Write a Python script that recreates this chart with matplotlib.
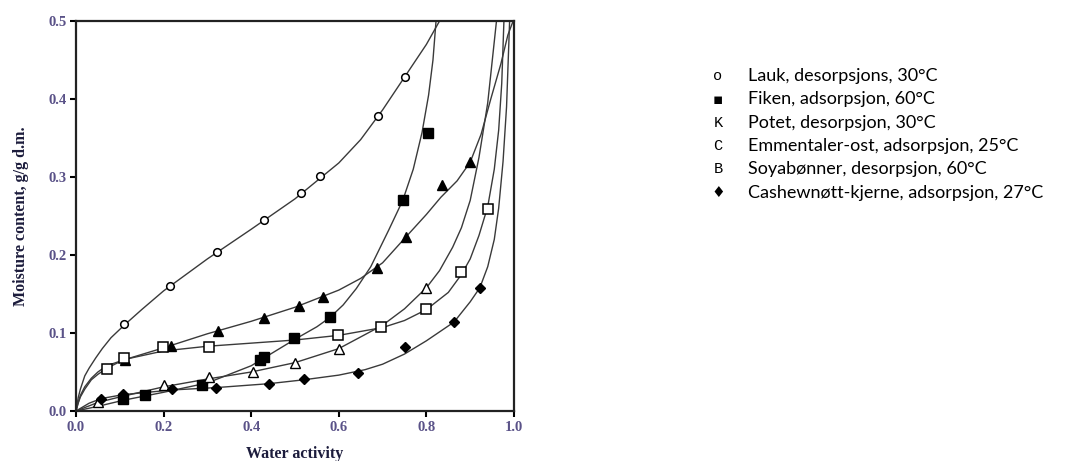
import matplotlib
matplotlib.use("Agg")
import matplotlib.pyplot as plt

# measured points (water activity, moisture content g/g d.m.)
lauk_aw = [0.11, 0.215, 0.323, 0.43, 0.513, 0.558, 0.689, 0.75]
lauk_m = [0.111, 0.16, 0.204, 0.245, 0.279, 0.301, 0.378, 0.428]
fiken_aw = [0.108, 0.158, 0.288, 0.42, 0.43, 0.497, 0.58, 0.746, 0.803]
fiken_m = [0.015, 0.02, 0.033, 0.065, 0.069, 0.094, 0.121, 0.27, 0.357]
potet_aw = [0.112, 0.217, 0.325, 0.43, 0.508, 0.563, 0.688, 0.753, 0.835, 0.90]
potet_m = [0.065, 0.083, 0.103, 0.119, 0.135, 0.146, 0.183, 0.223, 0.29, 0.319]
emment_aw = [0.05, 0.2, 0.303, 0.405, 0.50, 0.60, 0.80]
emment_m = [0.011, 0.033, 0.044, 0.05, 0.061, 0.08, 0.158]
soya_aw = [0.071, 0.11, 0.198, 0.303, 0.598, 0.697, 0.80, 0.88, 0.94]
soya_m = [0.054, 0.068, 0.082, 0.082, 0.097, 0.108, 0.131, 0.178, 0.259]
cashew_aw = [0.058, 0.108, 0.22, 0.32, 0.44, 0.52, 0.643, 0.75, 0.863, 0.922]
cashew_m = [0.016, 0.022, 0.028, 0.03, 0.035, 0.041, 0.049, 0.082, 0.114, 0.158]

# fitted curves
lauk_c_aw = [0, 0.005, 0.01, 0.02, 0.03, 0.045, 0.06, 0.08, 0.11, 0.15, 0.2, 0.3, 0.4,
             0.5, 0.6, 0.65, 0.7, 0.75, 0.8, 0.83]
lauk_c_m = [0, 0.017, 0.028, 0.045, 0.055, 0.068, 0.08, 0.094, 0.11, 0.13, 0.154, 0.195, 0.233,
            0.272, 0.318, 0.348, 0.386, 0.428, 0.47, 0.5]
fiken_c_aw = [0, 0.05, 0.11, 0.2, 0.3, 0.4, 0.5, 0.55, 0.58, 0.61, 0.64, 0.673, 0.714, 0.746,
              0.77, 0.79, 0.805, 0.815, 0.822]
fiken_c_m = [0, 0.006, 0.014, 0.024, 0.036, 0.058, 0.092, 0.108, 0.12, 0.136, 0.157, 0.185, 0.232,
             0.27, 0.31, 0.357, 0.405, 0.45, 0.5]
potet_c_aw = [0, 0.005, 0.01, 0.02, 0.035, 0.05, 0.07, 0.112, 0.2, 0.3, 0.4, 0.5, 0.6, 0.65, 0.7,
              0.753, 0.8, 0.833, 0.87, 0.9, 0.925, 0.947, 0.97, 0.986, 0.998]
potet_c_m = [0, 0.011, 0.02, 0.031, 0.042, 0.05, 0.058, 0.066, 0.081, 0.099, 0.115, 0.133, 0.155,
             0.17, 0.19, 0.223, 0.252, 0.274, 0.295, 0.319, 0.355, 0.40, 0.445, 0.482, 0.5]
emment_c_aw = [0, 0.05, 0.1, 0.2, 0.3, 0.4, 0.5, 0.6, 0.7, 0.75, 0.8, 0.83, 0.86, 0.88, 0.9,
               0.92, 0.94, 0.96]
emment_c_m = [0, 0.011, 0.018, 0.031, 0.041, 0.05, 0.062, 0.08, 0.11, 0.131, 0.158, 0.18, 0.21,
              0.235, 0.27, 0.325, 0.395, 0.5]
soya_c_aw = [0, 0.005, 0.01, 0.02, 0.035, 0.05, 0.071, 0.11, 0.2, 0.3, 0.4, 0.5, 0.6, 0.7, 0.75,
             0.8, 0.85, 0.88, 0.9, 0.92, 0.94, 0.955, 0.965, 0.972, 0.977]
soya_c_m = [0, 0.01, 0.018, 0.028, 0.04, 0.047, 0.055, 0.066, 0.077, 0.083, 0.087, 0.091, 0.097,
            0.107, 0.116, 0.13, 0.152, 0.175, 0.195, 0.225, 0.262, 0.31, 0.36, 0.42, 0.5]
cashew_c_aw = [0, 0.03, 0.058, 0.108, 0.22, 0.32, 0.44, 0.52, 0.6, 0.66, 0.7, 0.75, 0.8, 0.863,
               0.9, 0.922, 0.94, 0.955, 0.965, 0.975, 0.983, 0.99]
cashew_c_m = [0, 0.01, 0.016, 0.021, 0.027, 0.03, 0.035, 0.04, 0.046, 0.053, 0.06, 0.073, 0.09,
              0.114, 0.14, 0.158, 0.185, 0.22, 0.26, 0.32, 0.39, 0.5]

legend_symbols = ["o", "\u25aa", "K", "C", "B", "\u2666"]
legend_labels = ["Lauk, desorpsjons, 30°C",
                 "Fiken, adsorpsjon, 60°C",
                 "Potet, desorpsjon, 30°C",
                 "Emmentaler-ost, adsorpsjon, 25°C",
                 "Soyabønner, desorpsjon, 60°C",
                 "Cashewnøtt-kjerne, adsorpsjon, 27°C"]

W, H = 1080, 461
fig = plt.figure(figsize=(W / 100, H / 100), dpi=100)
ax = fig.add_axes([76 / W, 1 - 411 / H, (514 - 76) / W, (411 - 21) / H])

line_kw = dict(color="#3a3a3a", lw=1.0, zorder=2)
for cx, cy in [(lauk_c_aw, lauk_c_m), (fiken_c_aw, fiken_c_m), (potet_c_aw, potet_c_m),
               (emment_c_aw, emment_c_m), (soya_c_aw, soya_c_m), (cashew_c_aw, cashew_c_m)]:
    ax.plot(cx, cy, **line_kw)

ax.plot(lauk_aw, lauk_m, "o", ms=5.5, mfc="white", mec="black", mew=1.1, ls="none", zorder=3)
ax.plot(fiken_aw, fiken_m, "s", ms=7, mfc="black", mec="black", ls="none", zorder=3)
ax.plot(potet_aw, potet_m, "^", ms=7, mfc="black", mec="black", ls="none", zorder=3)
ax.plot(emment_aw, emment_m, "^", ms=6.5, mfc="white", mec="black", mew=1.0, ls="none", zorder=3)
ax.plot(soya_aw, soya_m, "s", ms=6.5, mfc="white", mec="black", mew=1.1, ls="none", zorder=3)
ax.plot(cashew_aw, cashew_m, "D", ms=5.5, mfc="black", mec="black", ls="none", zorder=3)

ax.set_xlim(0, 1.0)
ax.set_ylim(0, 0.5)
ax.set_xticks([0.0, 0.2, 0.4, 0.6, 0.8, 1.0])
ax.set_yticks([0.0, 0.1, 0.2, 0.3, 0.4, 0.5])
ax.set_xticklabels(["0.0", "0.2", "0.4", "0.6", "0.8", "1.0"])
ax.set_yticklabels(["0.0", "0.1", "0.2", "0.3", "0.4", "0.5"])
tick_color = "#5a5288"
for lbl in ax.get_xticklabels() + ax.get_yticklabels():
    lbl.set_family("Liberation Serif")
    lbl.set_fontweight("bold")
    lbl.set_fontsize(10.5)
    lbl.set_color(tick_color)
ax.tick_params(direction="out", length=4, width=1.5, pad=3)
for s in ax.spines.values():
    s.set_linewidth(1.6)
    s.set_color("#222222")
ax.set_xlabel("Water activity", family="Liberation Serif", fontweight="bold",
              fontsize=11.5, color="#1c1c3c", labelpad=9)
ax.set_ylabel("Moisture content, g/g d.m.", family="Liberation Serif", fontweight="bold",
              fontsize=11.5, color="#1c1c3c", labelpad=14)

# legend drawn as plain text lines
y0, dy = 76, 23.3
for i, (sym, lab) in enumerate(zip(legend_symbols, legend_labels)):
    yy = 1 - (y0 + i * dy) / H
    fam = "Liberation Mono" if sym.isalpha() else "DejaVu Sans"
    fig.text(718 / W, yy, sym, family=fam, fontsize=11, va="center", ha="center")
    fig.text(748 / W, yy, lab, family="Lato", fontsize=13, va="center", ha="left")

fig.savefig("out.png", dpi=100)
